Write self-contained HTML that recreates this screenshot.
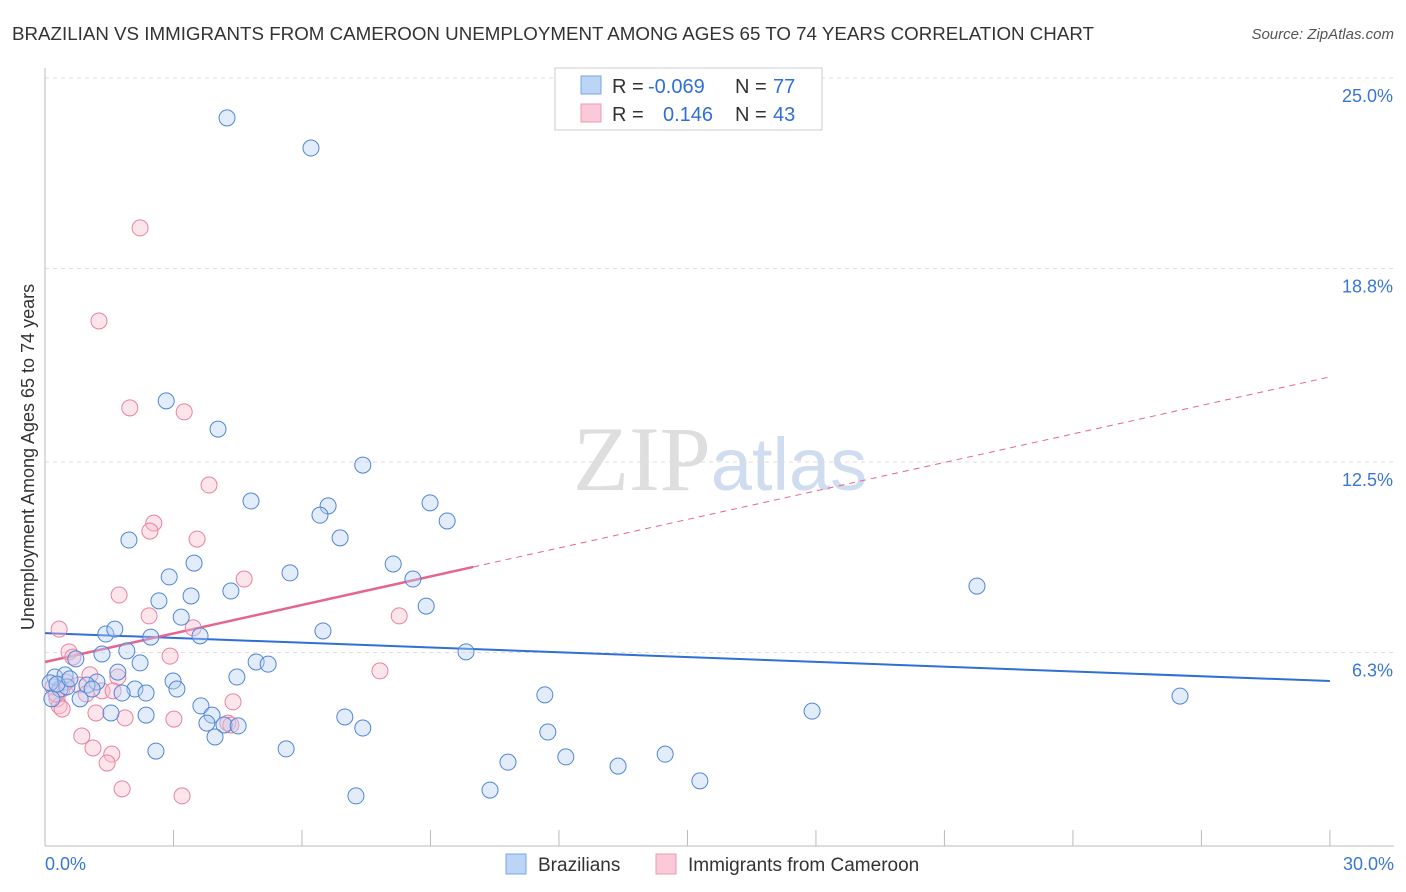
<!DOCTYPE html>
<html><head><meta charset="utf-8"><style>
body{margin:0;background:#fff;font-family:"Liberation Sans",sans-serif;}
svg{display:block}
</style></head><body>
<svg width="1406" height="892" id="chart">
<text x="12" y="40" font-size="18.5" fill="#333" textLength="1082" lengthAdjust="spacingAndGlyphs">BRAZILIAN VS IMMIGRANTS FROM CAMEROON UNEMPLOYMENT AMONG AGES 65 TO 74 YEARS CORRELATION CHART</text>
<text x="1394" y="39" font-size="15" fill="#555" font-style="italic" text-anchor="end">Source: ZipAtlas.com</text>
<text x="720" y="490" font-size="92" fill="#dedede" text-anchor="middle" font-family="Liberation Serif,serif">ZIP<tspan fill="#d0dcf0" font-family="Liberation Sans,sans-serif" font-size="74">atlas</tspan></text>
<text transform="translate(34,457) rotate(-90)" font-size="18" fill="#333" text-anchor="middle">Unemployment Among Ages 65 to 74 years</text>
<g id="grid"></g><g id="axes"></g><g id="lines"></g><g id="pts"></g>
<g>
<rect x="555" y="68" width="267" height="62" fill="#fff" stroke="#ccc"/>
<rect x="581" y="76" width="20" height="18" fill="#bcd4f5" stroke="#7aa6e6"/>
<rect x="581" y="104" width="20" height="18" fill="#fbc9d8" stroke="#ee9ab5"/>
<text x="612" y="93" font-size="20" fill="#333">R =</text>
<text x="648" y="93" font-size="20" fill="#2f6fd6">-0.069</text>
<text x="735" y="93" font-size="20" fill="#333">N =</text>
<text x="773" y="93" font-size="20" fill="#2f6fd6">77</text>
<text x="612" y="121" font-size="20" fill="#333">R =</text>
<text x="663" y="121" font-size="20" fill="#2f6fd6">0.146</text>
<text x="735" y="121" font-size="20" fill="#333">N =</text>
<text x="773" y="121" font-size="20" fill="#2f6fd6">43</text>
</g>
<g>
<rect x="506" y="854" width="20" height="20" fill="#bcd4f5" stroke="#7aa6e6"/>
<text x="538" y="871" font-size="19" fill="#333">Brazilians</text>
<rect x="656" y="854" width="20" height="20" fill="#fbc9d8" stroke="#ee9ab5"/>
<text x="688" y="871" font-size="19" fill="#333">Immigrants from Cameroon</text>
</g>
</svg>
<script>
const yTicks=[25.0,18.8,12.5,6.3];
const yTickLabels=["25.0%","18.8%","12.5%","6.3%"];
const xTickLabels=["0.0%","30.0%"];
const blueX=[4.25,6.21,2.83,4.04,7.42,4.81,6.61,6.42,8.99,9.39,1.96,6.89,3.48,2.90,8.13,5.72,8.59,4.34,3.41,2.66,8.90,3.18,1.42,1.63,2.47,3.62,6.49,1.33,1.91,0.72,2.22,9.83,4.93,5.21,1.70,4.48,2.99,3.08,0.23,0.47,1.21,0.98,2.10,2.36,1.80,0.35,0.12,0.51,0.82,0.16,11.67,26.50,21.76,17.91,3.64,3.90,2.36,1.54,7.00,3.78,4.18,4.51,7.42,11.74,3.97,2.59,5.63,14.48,12.16,10.81,13.38,15.29,10.39,7.26,0.28,0.58,1.10];
const blueY=[23.70,22.72,14.49,13.57,12.40,11.23,11.07,10.77,11.17,10.58,9.96,10.03,9.21,8.76,9.18,8.89,8.69,8.30,8.14,7.98,7.81,7.45,6.90,7.06,6.80,6.84,7.00,6.25,6.35,6.09,5.96,6.32,5.99,5.92,5.66,5.50,5.37,5.11,5.50,5.57,5.34,5.24,5.11,4.98,4.98,5.11,5.31,5.18,4.79,4.79,4.92,4.88,8.46,4.39,4.56,4.26,4.26,4.33,4.20,4.00,3.94,3.91,3.84,3.71,3.55,3.09,3.16,2.99,2.90,2.73,2.60,2.12,1.82,1.63,5.27,5.44,5.11];
const pinkX=[2.22,1.26,1.98,3.25,3.83,2.54,2.45,3.55,4.65,1.73,2.43,3.46,0.33,8.27,0.56,0.65,2.92,7.82,1.05,1.70,0.19,0.40,0.79,1.33,0.96,0.28,4.39,0.33,0.40,1.19,1.87,3.01,4.27,4.34,0.86,1.12,1.56,1.45,1.80,3.20,0.26,0.49,1.59];
const pinkY=[20.12,17.09,14.26,14.13,11.75,10.51,10.25,9.99,8.69,8.17,7.49,7.10,7.06,7.49,6.32,6.15,6.18,5.70,5.57,5.50,5.18,5.11,5.24,5.05,4.95,4.79,4.69,4.56,4.46,4.33,4.17,4.13,4.00,3.94,3.58,3.19,2.99,2.70,1.86,1.63,4.95,5.34,5.05];
const blueTrend=[6.93,5.37];
const pinkTrend=[5.99,15.27];
const pinkSolidEnd=10.0;
const X=v=>45+v*42.83, Y=v=>846-v*30.72;
const NS="http://www.w3.org/2000/svg";
function mk(p,t,a){const e=document.createElementNS(NS,t);for(const k in a)e.setAttribute(k,a[k]);document.getElementById(p).appendChild(e);return e;}
yTicks.forEach((t,i)=>{
 const l=mk('grid','line',{x1:45,x2:1394,y1:Y(t),y2:Y(t),stroke:'#ddd','stroke-dasharray':'4,4'});
 
 
 const tx=mk('grid','text',{x:1393,y:Y(t)+24,'font-size':18,fill:'#3a76d6','text-anchor':'end'});
 tx.textContent=yTickLabels[i];
 
 
});
const ax=mk('axes','line',{x1:45,x2:1394,y1:846,y2:846,stroke:'#bbb'});


const ay=mk('axes','line',{x1:45,x2:45,y1:68,y2:846,stroke:'#bbb'});


for(let i=0;i<=10;i++){
 const t=mk('axes','line',{x1:X(i*3),x2:X(i*3),y1:830,y2:846,stroke:'#bbb'});
 
 
}
[[0,'start',45],[30,'end',1394]].forEach((d,i)=>{
 const t=mk('axes','text',{x:d[2],y:870,'font-size':18,fill:'#3a76d6','text-anchor':d[1]});
 t.textContent=xTickLabels[i];
 
 
});
function pts(xs,ys,fill,stroke,name){xs.forEach((x,i)=>{
 const c=mk('pts','circle',{cx:X(x),cy:Y(ys[i]),r:8,fill:fill,'fill-opacity':0.4,stroke:stroke,'stroke-width':1});
 
 
});}
pts(pinkX,pinkY,'#f9bdd0','#e9829f','point-cameroon');
pts(blueX,blueY,'#b7cff3','#4f86d8','point-brazilian');
const bl=mk('lines','line',{x1:X(0),y1:Y(blueTrend[0]),x2:X(30),y2:Y(blueTrend[1]),stroke:'#2f6fd6','stroke-width':2});


const py=x=>pinkTrend[0]+(pinkTrend[1]-pinkTrend[0])*x/30;
const pl=mk('lines','line',{x1:X(0),y1:Y(py(0)),x2:X(pinkSolidEnd),y2:Y(py(pinkSolidEnd)),stroke:'#e4668f','stroke-width':2.5});


const pd=mk('lines','line',{x1:X(pinkSolidEnd),y1:Y(py(pinkSolidEnd)),x2:X(30),y2:Y(py(30)),stroke:'#e4668f','stroke-width':1,'stroke-dasharray':'6,5'});


</script>
</body></html>
